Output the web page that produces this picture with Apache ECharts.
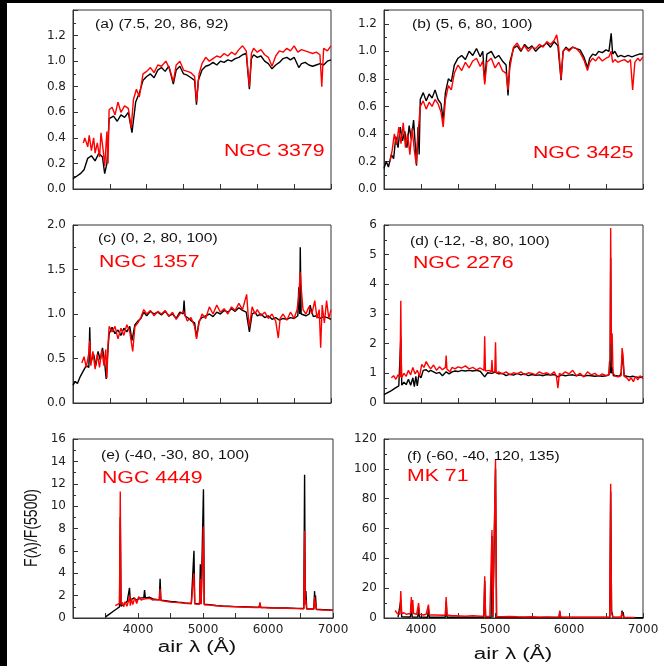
<!DOCTYPE html>
<html>

<head>
    <meta charset="utf-8">
    <title>ECharts</title>
    <script src="https://cdn.jsdelivr.net/npm/echarts@6.0.0/dist/echarts.min.js"></script>
</head>

<body style="margin:0; background:#fff;">
    <div id="chart" style="width: 664px; height: 666px;"></div>

    <script>
        // spectra as [air wavelength (A), F(lambda)/F(5500)] pairs
        var aBlack = [[3500,0.08],[3550,0.10],[3600,0.12],[3650,0.15],[3700,0.24],[3750,0.26],[3800,0.22],[3850,0.28],[3900,0.25],[3930,0.12],[3960,0.20],[3990,0.55],[4050,0.57],[4100,0.53],[4150,0.58],[4200,0.56],[4250,0.60],[4300,0.44],[4350,0.68],[4400,0.75],[4450,0.85],[4500,0.88],[4550,0.90],[4600,0.87],[4650,0.93],[4700,0.95],[4750,0.92],[4800,0.96],[4861,0.82],[4900,0.93],[4950,0.96],[5000,0.90],[5050,0.89],[5100,0.87],[5150,0.85],[5175,0.66],[5200,0.85],[5250,0.93],[5300,0.96],[5350,0.97],[5400,0.99],[5450,0.97],[5500,1.00],[5550,0.99],[5600,1.01],[5650,1.00],[5700,1.02],[5750,1.03],[5800,1.05],[5850,1.06],[5893,0.78],[5920,1.02],[5950,1.05],[6000,1.03],[6050,1.04],[6100,1.00],[6150,0.98],[6200,0.94],[6250,0.97],[6300,0.99],[6350,1.02],[6400,1.03],[6450,1.01],[6500,1.03],[6563,0.95],[6600,0.98],[6650,0.99],[6700,0.97],[6750,0.96],[6800,0.97],[6850,0.98],[6900,0.97],[6950,1.00],[7000,1.01]];
        var aRed = [[3640,0.36],[3660,0.40],[3700,0.33],[3720,0.42],[3750,0.30],[3780,0.40],[3800,0.28],[3830,0.36],[3860,0.25],[3880,0.44],[3910,0.30],[3930,0.18],[3960,0.45],[3975,0.20],[3990,0.62],[4030,0.64],[4070,0.58],[4110,0.68],[4150,0.60],[4200,0.65],[4250,0.63],[4290,0.48],[4320,0.70],[4360,0.78],[4400,0.72],[4450,0.90],[4500,0.92],[4550,0.95],[4600,0.91],[4650,0.97],[4700,0.96],[4760,1.00],[4810,0.94],[4861,0.84],[4900,0.97],[4950,1.00],[5000,0.93],[5050,0.92],[5100,0.91],[5150,0.88],[5175,0.68],[5210,0.90],[5250,0.98],[5300,1.03],[5350,1.00],[5400,1.02],[5450,1.04],[5500,1.03],[5550,1.06],[5600,1.04],[5650,1.07],[5700,1.05],[5750,1.09],[5800,1.12],[5850,1.08],[5893,0.80],[5920,1.06],[5950,1.10],[6000,1.07],[6050,1.09],[6100,1.05],[6150,1.03],[6200,0.96],[6250,1.04],[6300,1.08],[6350,1.07],[6400,1.10],[6450,1.08],[6500,1.12],[6550,1.07],[6600,1.09],[6650,1.08],[6700,1.07],[6750,1.06],[6800,1.07],[6850,1.05],[6875,0.80],[6900,1.10],[6950,1.08],[7000,1.12]];

        var bBlack = [[3500,0.15],[3530,0.20],[3560,0.16],[3600,0.25],[3630,0.22],[3660,0.38],[3690,0.30],[3720,0.45],[3750,0.35],[3780,0.42],[3810,0.30],[3840,0.46],[3870,0.36],[3900,0.50],[3925,0.30],[3940,0.17],[3960,0.45],[3975,0.25],[3990,0.65],[4030,0.70],[4070,0.64],[4110,0.69],[4150,0.66],[4190,0.72],[4230,0.65],[4270,0.62],[4300,0.50],[4330,0.70],[4370,0.80],[4410,0.78],[4450,0.90],[4500,0.95],[4550,0.97],[4600,0.94],[4650,1.00],[4700,0.97],[4750,1.02],[4800,0.96],[4835,1.00],[4861,0.78],[4890,0.98],[4950,1.00],[5000,0.95],[5050,0.97],[5100,0.93],[5150,0.90],[5176,0.68],[5200,0.92],[5250,1.02],[5300,1.04],[5350,1.00],[5400,1.05],[5450,1.02],[5500,1.04],[5550,1.00],[5600,1.03],[5650,1.04],[5700,1.06],[5750,1.03],[5800,1.07],[5850,1.04],[5893,0.79],[5920,1.00],[5960,1.03],[6000,1.01],[6050,1.03],[6100,1.02],[6150,1.01],[6200,0.96],[6250,0.88],[6280,0.95],[6320,0.98],[6360,0.97],[6400,1.00],[6450,0.99],[6500,1.01],[6540,1.00],[6570,1.13],[6590,0.98],[6620,1.00],[6660,0.96],[6700,0.97],[6750,0.96],[6800,0.97],[6850,0.96],[6900,0.97],[6950,0.98],[7000,0.98]];
        var bRed = [[3580,0.20],[3610,0.28],[3640,0.40],[3670,0.32],[3700,0.45],[3730,0.33],[3760,0.48],[3790,0.30],[3820,0.40],[3850,0.25],[3880,0.44],[3910,0.28],[3935,0.18],[3960,0.40],[3990,0.60],[4030,0.64],[4070,0.58],[4110,0.63],[4150,0.60],[4190,0.65],[4230,0.62],[4270,0.56],[4300,0.45],[4330,0.65],[4370,0.75],[4410,0.72],[4450,0.84],[4500,0.90],[4550,0.86],[4600,0.92],[4650,0.88],[4700,0.93],[4750,0.95],[4800,0.89],[4835,0.93],[4861,0.76],[4890,0.92],[4950,0.95],[5000,0.88],[5050,0.92],[5100,0.86],[5150,0.84],[5176,0.72],[5200,0.88],[5250,1.03],[5300,1.06],[5350,1.01],[5400,1.04],[5450,1.00],[5500,1.03],[5550,1.02],[5600,1.05],[5650,1.03],[5700,1.07],[5750,1.05],[5800,1.08],[5834,1.12],[5860,1.03],[5893,0.80],[5920,1.00],[5960,1.02],[6000,1.00],[6050,1.03],[6100,1.02],[6150,0.99],[6200,0.94],[6250,0.86],[6280,0.92],[6320,0.95],[6360,0.93],[6400,0.96],[6450,0.93],[6500,0.95],[6540,0.96],[6570,1.00],[6590,0.92],[6620,0.94],[6660,0.92],[6700,0.93],[6750,0.94],[6800,0.92],[6830,0.94],[6860,0.72],[6890,0.92],[6930,0.95],[6960,0.93],[7000,0.96]];

        var cBlack = [[3500,0.20],[3530,0.24],[3560,0.22],[3600,0.30],[3640,0.36],[3680,0.42],[3715,0.40],[3727,0.85],[3739,0.45],[3780,0.55],[3810,0.42],[3840,0.58],[3870,0.48],[3900,0.62],[3930,0.45],[3950,0.27],[3970,0.55],[3990,0.78],[4030,0.85],[4070,0.78],[4110,0.82],[4150,0.76],[4190,0.84],[4230,0.80],[4270,0.86],[4300,0.70],[4340,0.88],[4380,0.92],[4420,0.95],[4460,1.02],[4500,0.98],[4550,1.03],[4600,1.00],[4650,1.02],[4700,0.99],[4750,1.03],[4800,0.98],[4850,1.00],[4900,0.95],[4950,1.02],[4995,1.00],[5007,1.15],[5019,0.98],[5070,0.95],[5110,0.92],[5150,0.90],[5176,0.74],[5210,0.92],[5250,0.96],[5300,0.98],[5350,1.00],[5400,0.97],[5450,1.02],[5500,1.00],[5550,1.04],[5600,1.02],[5650,1.06],[5700,1.03],[5750,1.07],[5800,1.04],[5850,1.02],[5893,0.80],[5930,1.00],[5970,1.02],[6000,0.98],[6050,1.00],[6100,0.96],[6150,0.98],[6200,0.94],[6250,0.96],[6300,0.93],[6350,0.95],[6400,0.94],[6450,0.96],[6500,0.95],[6550,0.98],[6563,1.30],[6575,1.00],[6583,1.75],[6595,1.00],[6620,1.02],[6660,0.98],[6705,1.00],[6717,1.10],[6731,1.05],[6760,0.97],[6800,0.98],[6850,0.95],[6900,0.97],[6950,0.96],[7000,0.94]];
        var cRed = [[3620,0.45],[3650,0.52],[3680,0.40],[3712,0.55],[3727,0.70],[3742,0.42],[3770,0.58],[3800,0.38],[3830,0.55],[3860,0.40],[3890,0.60],[3920,0.42],[3945,0.60],[3960,0.28],[3975,0.65],[3990,0.86],[4030,0.80],[4070,0.86],[4110,0.72],[4150,0.84],[4190,0.76],[4230,0.88],[4270,0.80],[4310,0.58],[4340,0.86],[4380,0.90],[4420,0.96],[4460,1.05],[4500,1.00],[4550,1.04],[4600,0.98],[4650,1.03],[4700,1.00],[4750,1.04],[4800,0.97],[4850,1.02],[4900,0.94],[4950,1.00],[5000,1.03],[5050,0.92],[5100,0.96],[5150,0.86],[5176,0.72],[5210,0.90],[5250,1.00],[5300,0.95],[5350,1.08],[5400,1.00],[5450,1.10],[5500,1.02],[5550,1.06],[5600,1.00],[5650,1.08],[5700,1.04],[5750,1.12],[5800,1.05],[5856,1.22],[5875,1.00],[5893,0.85],[5930,1.08],[5970,1.00],[6000,1.05],[6050,0.98],[6100,1.02],[6150,0.95],[6200,1.00],[6250,0.92],[6285,0.73],[6310,0.95],[6350,1.00],[6400,0.93],[6450,1.02],[6500,0.95],[6540,1.05],[6563,1.20],[6583,1.47],[6600,1.25],[6620,1.05],[6660,1.00],[6700,1.08],[6740,1.00],[6780,1.15],[6810,0.95],[6840,1.05],[6860,0.62],[6880,1.10],[6910,0.90],[6940,1.15],[6970,0.95],[7000,1.05]];

        var dBlack = [[3500,0.28],[3550,0.35],[3600,0.42],[3650,0.50],[3700,0.58],[3720,0.60],[3727,2.20],[3740,0.60],[3770,0.70],[3800,0.62],[3830,0.80],[3860,0.60],[3890,0.85],[3910,0.55],[3930,0.90],[3950,0.58],[3970,0.95],[4000,0.85],[4030,1.10],[4070,1.12],[4101,1.05],[4130,1.10],[4170,1.05],[4210,1.00],[4250,1.03],[4290,0.92],[4340,1.05],[4380,0.98],[4420,1.05],[4460,1.08],[4500,1.06],[4550,1.10],[4600,1.08],[4650,1.10],[4700,1.08],[4750,1.10],[4800,1.07],[4861,0.88],[4900,1.02],[4959,1.00],[5007,1.05],[5050,0.98],[5100,1.00],[5150,0.92],[5200,0.97],[5250,0.94],[5300,1.00],[5350,0.95],[5400,0.98],[5450,0.92],[5500,0.96],[5550,0.93],[5600,0.95],[5650,0.92],[5700,0.96],[5750,0.94],[5800,0.96],[5850,0.88],[5900,0.95],[5950,0.92],[6000,0.94],[6050,0.95],[6100,0.92],[6150,0.95],[6200,0.90],[6250,0.93],[6300,0.92],[6350,0.90],[6400,0.92],[6450,0.90],[6500,0.92],[6540,0.95],[6548,1.40],[6556,1.00],[6563,4.90],[6570,1.00],[6583,1.20],[6600,0.92],[6640,0.92],[6680,0.90],[6705,1.00],[6717,1.60],[6731,1.40],[6745,0.92],[6780,0.90],[6820,0.88],[6860,0.90],[6900,0.88],[6950,0.86],[7000,0.88]];
        var dRed = [[3600,0.85],[3630,0.92],[3660,0.80],[3690,0.95],[3717,0.88],[3727,3.45],[3737,0.85],[3770,1.00],[3800,0.90],[3830,1.10],[3860,0.95],[3890,1.20],[3920,0.98],[3950,1.10],[3980,0.90],[4010,1.30],[4040,1.20],[4070,1.40],[4101,1.25],[4130,1.15],[4170,1.28],[4210,1.10],[4250,1.22],[4290,1.12],[4330,1.20],[4340,1.60],[4350,1.15],[4390,1.05],[4420,1.20],[4460,1.15],[4500,1.22],[4550,1.18],[4600,1.25],[4650,1.15],[4700,1.20],[4750,1.12],[4800,1.18],[4851,1.10],[4861,2.25],[4871,1.08],[4920,1.10],[4950,1.05],[4959,1.45],[4968,1.05],[4997,1.05],[5007,2.05],[5017,1.00],[5050,1.05],[5100,0.98],[5150,1.05],[5200,0.95],[5250,1.02],[5300,0.98],[5350,1.05],[5400,0.95],[5450,1.02],[5500,1.00],[5550,0.95],[5600,1.05],[5650,0.98],[5700,1.02],[5750,0.95],[5800,1.05],[5830,0.90],[5850,0.50],[5870,1.00],[5900,0.95],[5950,1.05],[6000,0.98],[6050,1.10],[6100,0.92],[6150,1.00],[6200,0.88],[6250,1.05],[6300,0.95],[6350,1.00],[6400,0.90],[6450,0.98],[6500,0.92],[6540,0.95],[6548,1.20],[6556,1.50],[6563,5.90],[6573,2.00],[6583,2.35],[6595,1.00],[6630,0.90],[6670,0.88],[6705,0.92],[6717,1.85],[6731,1.60],[6745,0.90],[6780,0.85],[6810,0.75],[6840,0.85],[6870,0.72],[6900,0.90],[6930,0.78],[6960,0.92],[7000,0.82]];

        var eBlack = [[3500,0.10],[3530,0.20],[3560,0.35],[3590,0.30],[3620,0.60],[3650,0.55],[3680,0.85],[3700,0.95],[3715,1.00],[3727,9.00],[3739,1.05],[3760,1.10],[3800,1.30],[3835,1.50],[3857,1.55],[3869,2.70],[3881,1.60],[3910,1.50],[3940,1.80],[3970,1.60],[4000,1.75],[4050,1.80],[4089,1.80],[4101,2.50],[4113,1.80],[4180,1.85],[4230,1.70],[4280,1.65],[4328,1.62],[4340,3.50],[4352,1.60],[4420,1.55],[4470,1.50],[4520,1.45],[4570,1.45],[4620,1.40],[4670,1.38],[4720,1.35],[4770,1.33],[4820,1.30],[4849,1.30],[4861,6.00],[4873,1.29],[4900,1.28],[4947,1.26],[4959,4.80],[4971,1.25],[4995,1.24],[5007,11.50],[5019,1.23],[5100,1.20],[5200,1.12],[5300,1.08],[5400,1.05],[5500,1.02],[5600,1.00],[5700,0.98],[5800,0.96],[5864,0.96],[5876,1.30],[5888,0.96],[5950,0.95],[6050,0.92],[6150,0.90],[6288,0.89],[6300,1.05],[6312,0.88],[6450,0.86],[6551,0.85],[6563,12.80],[6573,1.50],[6583,2.40],[6595,0.82],[6650,0.80],[6705,0.80],[6717,2.40],[6724,1.20],[6731,2.00],[6743,0.78],[6850,0.75],[6950,0.72],[7000,0.70]];
        var eRed = [[3650,1.10],[3680,1.20],[3715,1.30],[3727,11.30],[3739,1.20],[3760,1.40],[3780,1.00],[3800,1.45],[3830,1.05],[3857,1.60],[3869,2.00],[3881,1.10],[3900,1.70],[3920,1.20],[3950,1.80],[3980,1.30],[4010,1.90],[4050,1.60],[4089,1.70],[4101,1.80],[4113,1.70],[4180,1.75],[4230,1.60],[4280,1.65],[4328,1.60],[4340,2.60],[4352,1.55],[4420,1.50],[4470,1.45],[4520,1.42],[4570,1.40],[4620,1.38],[4670,1.35],[4720,1.32],[4770,1.30],[4820,1.28],[4849,1.27],[4861,4.00],[4873,1.26],[4900,1.25],[4947,1.23],[4959,3.50],[4971,1.22],[4995,1.20],[5007,8.20],[5019,1.18],[5100,1.15],[5200,1.10],[5300,1.05],[5400,1.02],[5500,1.00],[5600,0.98],[5700,0.96],[5800,0.94],[5864,0.93],[5876,1.40],[5888,0.92],[5950,0.92],[6050,0.90],[6150,0.88],[6288,0.87],[6300,0.95],[6312,0.86],[6450,0.84],[6551,0.82],[6563,7.80],[6573,1.20],[6583,1.60],[6595,0.80],[6650,0.78],[6705,0.78],[6717,1.90],[6724,1.00],[6731,1.50],[6743,0.75],[6850,0.72],[6950,0.70],[7000,0.68]];

        var fBlack = [[3690,0.5],[3715,0.8],[3727,12.0],[3739,0.8],[3857,0.7],[3869,10.0],[3881,0.7],[3956,0.6],[3968,7.0],[3980,0.6],[4089,0.5],[4101,6.0],[4113,0.5],[4328,0.5],[4340,11.0],[4352,0.5],[4461,0.5],[4471,1.5],[4481,0.5],[4849,0.4],[4861,25.0],[4873,0.4],[4947,0.4],[4959,55.0],[4971,0.4],[4993,0.4],[5007,100.0],[5021,0.4],[5500,0.3],[5864,0.3],[5876,4.0],[5888,0.3],[6288,0.3],[6300,0.6],[6312,0.3],[6551,0.3],[6563,85.0],[6575,5.0],[6583,5.0],[6595,0.3],[6705,0.3],[6717,5.0],[6724,2.0],[6731,4.0],[6743,0.3],[7000,0.2]];
        var fRed = [[3650,5.0],[3680,3.0],[3700,4.0],[3715,2.5],[3727,18.0],[3739,3.0],[3770,3.5],[3800,2.5],[3857,3.0],[3869,14.0],[3878,3.5],[3889,12.0],[3900,3.0],[3940,2.5],[3956,2.5],[3968,10.0],[3980,2.5],[4030,2.0],[4070,2.5],[4089,2.0],[4101,9.0],[4113,2.0],[4200,2.0],[4300,1.8],[4328,1.8],[4340,14.0],[4352,2.0],[4420,1.5],[4461,1.5],[4471,2.0],[4481,1.5],[4600,1.2],[4700,1.5],[4800,1.2],[4849,1.2],[4861,28.0],[4873,1.0],[4930,1.0],[4947,1.0],[4959,59.0],[4971,1.0],[4993,1.0],[5007,106.0],[5021,1.0],[5100,0.8],[5200,1.0],[5300,0.8],[5400,0.7],[5500,0.8],[5600,0.6],[5700,0.7],[5800,0.6],[5864,0.6],[5876,5.0],[5888,0.6],[6000,0.5],[6100,0.6],[6200,0.5],[6288,0.5],[6300,0.8],[6312,0.5],[6400,0.5],[6500,0.5],[6551,0.6],[6563,90.0],[6575,3.0],[6583,3.0],[6595,0.5],[6668,0.5],[6678,1.5],[6688,0.5],[6707,0.5],[6717,4.0],[6724,2.0],[6731,3.0],[6743,0.5],[6850,0.4],[6890,0.3]];

        var panelTags = ['(a) (7.5, 20, 86, 92)', '(b) (5, 6, 80, 100)', '(c) (0, 2, 80, 100)',
            '(d) (-12, -8, 80, 100)', '(e) (-40, -30, 80, 100)', '(f) (-60, -40, 120, 135)'];
        var galaxyNames = ['NGC 3379', 'NGC 3425', 'NGC 1357', 'NGC 2276', 'NGC 4449', 'MK 71'];
        var yMax = [1.4, 1.3, 2, 6, 16, 120];
        var yStep = [0.2, 0.2, 0.5, 1, 2, 20];
        var xMin = [3500, 3500, 3500, 3500, 3000, 3500];
        var blackData = [aBlack, bBlack, cBlack, dBlack, eBlack, fBlack];
        var redData = [aRed, bRed, cRed, dRed, eRed, fRed];

        // layout (px)
        var boxes = [
            { left: 73, top: 10, width: 258, height: 179 },
            { left: 384, top: 10, width: 259, height: 179 },
            { left: 73, top: 225, width: 258, height: 178 },
            { left: 384, top: 225, width: 259, height: 178 },
            { left: 73, top: 439, width: 260, height: 179 },
            { left: 384, top: 439, width: 259, height: 179 }
        ];
        var tagPos = [[95, 25], [412, 25], [98, 239], [410, 242], [101, 456], [407, 457]];
        var namePos = [[224, 152], [533, 154], [99, 263], [413, 264], [102, 479], [407, 477]];

        var frameColor = '#333';
        var labelFont = 'DejaVu Sans';

        var grids = [], xAxes = [], yAxes = [], series = [], graphics = [];

        boxes.forEach(function (b, i) {
            grids.push({
                left: b.left, top: b.top, width: b.width, height: b.height,
                show: true, borderColor: frameColor, borderWidth: 1, backgroundColor: '#fff'
            });
            xAxes.push({
                type: 'value', gridIndex: i, min: xMin[i], max: 7000, interval: 500,
                axisLine: { lineStyle: { color: frameColor } },
                axisTick: { inside: true, length: 5, lineStyle: { color: frameColor } },
                splitLine: { show: false },
                axisLabel: {
                    show: i >= 4, color: '#222', fontFamily: labelFont, fontSize: 12, margin: 6,
                    formatter: function (v) { return (v % 1000 === 0 && v > 3000) ? String(v) : ''; }
                }
            });
            yAxes.push({
                type: 'value', gridIndex: i, min: 0, max: yMax[i], interval: yStep[i],
                axisLine: { show: true, lineStyle: { color: frameColor } },
                axisTick: { show: true, inside: true, length: 5, lineStyle: { color: frameColor } },
                minorTick: { show: true, splitNumber: 2, length: 3, lineStyle: { color: frameColor } },
                splitLine: { show: false },
                axisLabel: {
                    color: '#222', fontFamily: labelFont, fontSize: 12, margin: 7,
                    showMaxLabel: i > 1,
                    formatter: function (v) { return i < 3 ? v.toFixed(1) : String(v); }
                }
            });
            series.push({
                type: 'line', xAxisIndex: i, yAxisIndex: i, data: blackData[i],
                symbol: 'none', color: '#000', lineStyle: { color: '#000', width: 1.4 }, z: 2
            });
            series.push({
                type: 'line', xAxisIndex: i, yAxisIndex: i, data: redData[i],
                symbol: 'none', color: '#ff0000', lineStyle: { color: '#ff0000', width: 1.4 }, z: 3
            });
            graphics.push({
                type: 'text', x: tagPos[i][0], y: tagPos[i][1], scaleX: 1.3, z: 10,
                style: { text: panelTags[i], font: '12px "Liberation Sans", Arial, sans-serif', fill: '#111',
                    verticalAlign: 'middle', textVerticalAlign: 'middle' }
            });
            graphics.push({
                type: 'text', x: namePos[i][0], y: namePos[i][1], scaleX: 1.33, z: 10,
                style: { text: galaxyNames[i], font: '16px "Liberation Sans", Arial, sans-serif', fill: '#ff0000',
                    verticalAlign: 'middle', textVerticalAlign: 'middle' }
            });
        });

        // black strips on left and top edge of the scan
        graphics.push({ type: 'rect', shape: { x: 0, y: 0, width: 7, height: 666 }, style: { fill: '#000' }, z: 20 });
        graphics.push({ type: 'rect', shape: { x: 0, y: 0, width: 664, height: 3 }, style: { fill: '#000' }, z: 20 });

        // axis titles
        graphics.push({
            type: 'text', x: 32, y: 528, rotation: Math.PI / 2, scaleY: 1.3, z: 10,
            style: { text: 'F(λ)/F(5500)', font: '14px "Liberation Sans", Arial, sans-serif', fill: '#111',
                align: 'center', textAlign: 'center', verticalAlign: 'middle', textVerticalAlign: 'middle' }
        });
        graphics.push({
            type: 'text', x: 197, y: 648, scaleX: 1.4, z: 10,
            style: { text: 'air λ (Å)', font: '16px "Liberation Sans", Arial, sans-serif', fill: '#111',
                align: 'center', textAlign: 'center', verticalAlign: 'middle', textVerticalAlign: 'middle' }
        });
        graphics.push({
            type: 'text', x: 513, y: 655, scaleX: 1.4, z: 10,
            style: { text: 'air λ (Å)', font: '16px "Liberation Sans", Arial, sans-serif', fill: '#111',
                align: 'center', textAlign: 'center', verticalAlign: 'middle', textVerticalAlign: 'middle' }
        });

        var myChart = echarts.init(document.getElementById('chart'));
        myChart.setOption({
            animation: false,
            backgroundColor: '#fff',
            grid: grids,
            xAxis: xAxes,
            yAxis: yAxes,
            series: series,
            graphic: { elements: graphics }
        });
    </script>
</body>

</html>
